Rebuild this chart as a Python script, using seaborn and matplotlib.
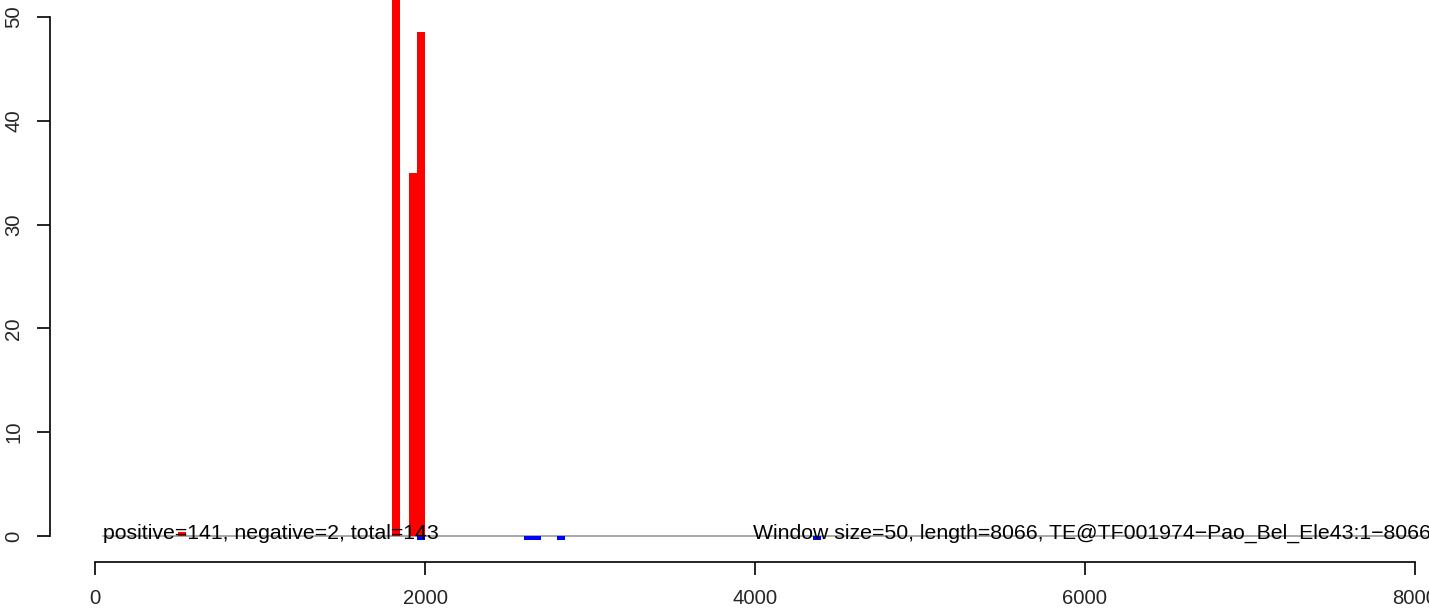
import numpy as np
import pandas as pd
import matplotlib
matplotlib.use("Agg")
import matplotlib.pyplot as plt
import seaborn as sns

# ==========================================
# DATA (window start positions and signal per window)
# ==========================================
WINDOW = 50
SEQ_LENGTH = 8066
pos_starts = [500, 1800, 1900, 1950]
pos_values = [0.4, 60.0, 35.0, 48.6]
neg_starts = [1950, 2600, 2650, 2800, 4350]
neg_values = [-0.35, -0.35, -0.35, -0.35, -0.35]
x_ticks = [0, 2000, 4000, 6000, 8000]
y_ticks = [0, 10, 20, 30, 40, 50]
left_label = "positive=141, negative=2, total=143"
right_label = "Window size=50, length=8066, TE@TF001974\u2212Pao_Bel_Ele43:1\u22128066"

pos_df = pd.DataFrame({"start": pos_starts, "value": pos_values})
neg_df = pd.DataFrame({"start": neg_starts, "value": neg_values})

# Visual settings
sns.set_style("white")
plt.rcParams["font.family"] = ["Liberation Sans", "DejaVu Sans"]

W, H = 1429, 608
fig = plt.figure(figsize=(W / 100, H / 100), dpi=100)
ax = fig.add_axes([50 / W, (H - 562) / H, (W - 50) / W, 562 / H])

# one bar per window, height = summed signal in that window
for df, col in [(pos_df, "#ff0000"), (neg_df, "#0000ff")]:
    sns.histplot(data=df, x="start", weights="value", binwidth=WINDOW,
                 binrange=(0, 8100), color=col, alpha=1, linewidth=0, ax=ax)

# baseline
ax.plot([WINDOW, SEQ_LENGTH], [0, 0], color="#999999", lw=1.2, zorder=0.5)

ax.text(WINDOW, -0.25, left_label, ha="left", va="baseline", fontsize=15.3, color="black")
ax.text(3985, -0.25, right_label, ha="left", va="baseline", fontsize=15.3, color="black")

ax.set_xlim(-273, 8085)
ax.set_ylim(-2.5, 51.64)
ax.set_xticks(x_ticks)
ax.set_xticklabels([str(t) for t in x_ticks])
ax.set_yticks(y_ticks)
ax.set_yticklabels([str(t) for t in y_ticks], rotation=90, va="center")
ax.set_xlabel("")
ax.set_ylabel("")

for side in ["top", "right"]:
    ax.spines[side].set_visible(False)
ax.spines["left"].set_bounds(0, 50)
ax.spines["bottom"].set_bounds(0, 8000)
for side in ["left", "bottom"]:
    ax.spines[side].set_linewidth(1.2)
    ax.spines[side].set_color("black")
ax.tick_params(axis="both", direction="out", length=9.4, width=1.2, color="black",
               labelsize=14.6, pad=10, left=True, bottom=True)
ax.grid(False)

fig.savefig("out.png", dpi=100)
